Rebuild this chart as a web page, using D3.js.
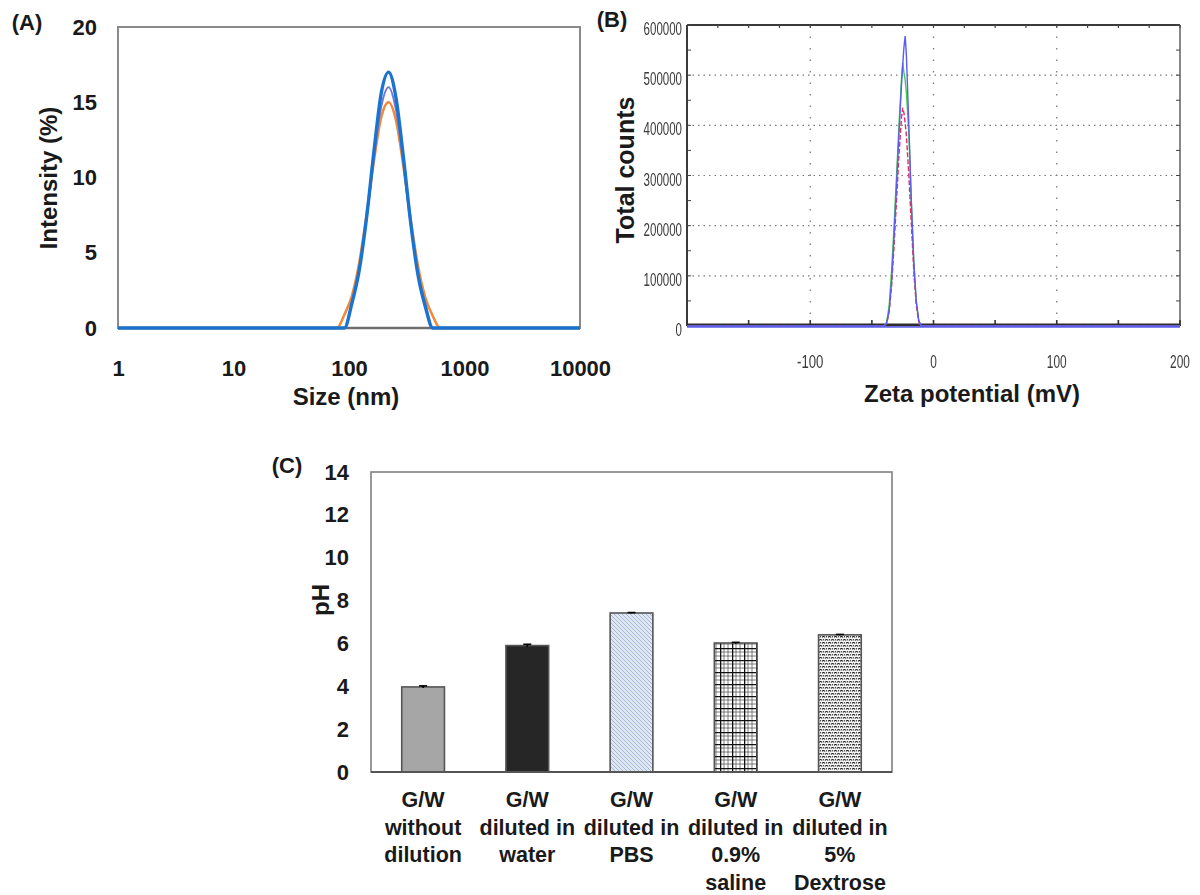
<!DOCTYPE html>
<html>
<head>
<meta charset="utf-8">
<script src="https://cdn.jsdelivr.net/npm/d3@7"></script>
<style>
  html, body { margin: 0; padding: 0; background: #fff; }
  svg { display: block; }
  text { font-family: Arial, "Liberation Sans", Helvetica, sans-serif; }
</style>
</head>
<body>
<svg id="fig" width="1200" height="895"></svg>
<script>
// ---------- (A) size distribution by intensity ----------
const sizeNm = [1, 78.8, 91.3, 105.7, 122.4, 141.8, 164.2, 190.1, 220.2, 255.0, 295.3, 342.0, 396.1, 458.7, 531.2, 615.1, 712.4, 10000];
const intensityOrange = [0, 0, 0.9, 2.1, 4.3, 7.5, 11.1, 14.0, 15.0, 13.8, 10.8, 7.2, 4.1, 2.0, 0.8, 0, 0, 0];
const intensityPurple = [0, 0, 0, 1.7, 3.9, 7.3, 11.3, 14.7, 16.0, 14.5, 11.0, 6.9, 3.6, 1.6, 0, 0, 0, 0];
const intensityBlue   = [0, 0, 0, 1.6, 3.8, 7.3, 11.7, 15.6, 17.0, 15.3, 11.4, 7.0, 3.5, 1.4, 0, 0, 0, 0];
const sizeTicks = [1, 10, 100, 1000, 10000];
const intensityTicks = [0, 5, 10, 15, 20];

// ---------- (B) zeta potential distribution ----------
const zetaMv = [-200, -40, -38, -36, -34, -32, -30, -28, -26, -25, -24, -23, -22, -20, -18, -16, -14, -12, -10, 200];
const countsRed   = [0, 0, 5000, 28000, 80000, 160000, 250000, 340000, 415000, 435000, 425000, 405000, 380000, 300000, 205000, 110000, 42000, 9000, 0, 0];
const countsGreen = [0, 0, 8000, 40000, 110000, 200000, 300000, 400000, 490000, 525000, 505000, 490000, 465000, 385000, 245000, 125000, 48000, 10000, 0, 0];
const countsBlue  = [0, 0, 5000, 30000, 90000, 180000, 280000, 385000, 480000, 520000, 555000, 578000, 540000, 400000, 250000, 130000, 50000, 12000, 0, 0];
const countTicks = [0, 100000, 200000, 300000, 400000, 500000, 600000];
const zetaTickLabels = [-100, 0, 100, 200];

// ---------- (C) pH ----------
const phCategories = [
  ["G/W", "without", "dilution"],
  ["G/W", "diluted in", "water"],
  ["G/W", "diluted in", "PBS"],
  ["G/W", "diluted in", "0.9%", "saline"],
  ["G/W", "diluted in", "5%", "Dextrose"]
];
const phValues = [3.97, 5.90, 7.42, 6.02, 6.40];
const phErrors = [0.05, 0.06, 0.02, 0.03, 0.02];
const phTicks = [0, 2, 4, 6, 8, 10, 12, 14];

const svg = d3.select("#fig");
const defs = svg.append("defs");

defs.append("filter").attr("id", "soft")
  .append("feGaussianBlur").attr("stdDeviation", 0.45);

// fill patterns for the pH bars
const hatch = defs.append("pattern").attr("id", "pat-hatch")
  .attr("patternUnits", "userSpaceOnUse").attr("width", 4).attr("height", 4);
hatch.append("rect").attr("width", 4).attr("height", 4).attr("fill", "#dfe7f2");
hatch.append("path").attr("d", "M-1,-1 L5,5 M-1,3 L1,5 M3,-1 L5,1")
  .attr("stroke", "#9db2cf").attr("stroke-width", 0.9);

const grid = defs.append("pattern").attr("id", "pat-grid")
  .attr("patternUnits", "userSpaceOnUse").attr("width", 12).attr("height", 12);
grid.append("rect").attr("width", 12).attr("height", 12).attr("fill", "#fff");
grid.append("path").attr("d", "M0,4 H12 M0,8 H12 M4,0 V12 M8,0 V12")
  .attr("stroke", "#6a6a6a").attr("stroke-width", 0.9);
grid.append("path").attr("d", "M0,0.6 H12 M0.6,0 V12")
  .attr("stroke", "#111").attr("stroke-width", 1.4);

const weave = defs.append("pattern").attr("id", "pat-weave")
  .attr("patternUnits", "userSpaceOnUse").attr("width", 6).attr("height", 6);
weave.append("rect").attr("width", 6).attr("height", 6).attr("fill", "#f6f6f6");
weave.append("path").attr("d", "M0,1.5 Q1.5,-0.5 3,1.5 M3,4.5 Q4.5,2.5 6,4.5 M-3,4.5 Q-1.5,2.5 0,4.5")
  .attr("stroke", "#222").attr("stroke-width", 1.2).attr("fill", "none");
weave.append("circle").attr("cx", 4.5).attr("cy", 0.8).attr("r", 0.7).attr("fill", "#333");
weave.append("circle").attr("cx", 1.5).attr("cy", 3.8).attr("r", 0.7).attr("fill", "#333");

function boldText(g, x, y, str, size, anchor) {
  return g.append("text").attr("x", x).attr("y", y)
    .attr("text-anchor", anchor || "middle")
    .attr("font-size", size).attr("font-weight", "bold").attr("fill", "#1a1a1a")
    .text(str);
}

// ================= Panel A =================
const gA = svg.append("g");
const xA = d3.scaleLog().domain([1, 10000]).range([118, 580]);
const yA = d3.scaleLinear().domain([0, 20]).range([328, 27]);

gA.append("rect").attr("x", 118).attr("y", 27).attr("width", 462).attr("height", 301)
  .attr("fill", "none").attr("stroke", "#8a8a8a").attr("stroke-width", 2);
gA.append("line").attr("x1", 118).attr("x2", 580).attr("y1", 328).attr("y2", 328)
  .attr("stroke", "#6e6e6e").attr("stroke-width", 2.5);

const axA_y = gA.append("g").attr("transform", "translate(118,0)")
  .call(d3.axisLeft(yA).tickValues(intensityTicks).tickSize(0).tickPadding(21));
const axA_x = gA.append("g").attr("transform", "translate(0,328)")
  .call(d3.axisBottom(xA).tickValues(sizeTicks).tickFormat(d3.format("d")).tickSize(0).tickPadding(32));
[axA_y, axA_x].forEach(ax => {
  ax.select(".domain").remove();
  ax.selectAll("text").attr("font-size", 22).attr("font-weight", "bold").attr("fill", "#1a1a1a")
    .attr("font-family", "Arial, 'Liberation Sans', sans-serif");
});

const lineA = vals => d3.line()
  .x((d, i) => xA(sizeNm[i])).y(d => yA(d)).curve(d3.curveMonotoneX)(vals);
gA.append("path").attr("d", lineA(intensityOrange)).attr("fill", "none")
  .attr("stroke", "#f08a3c").attr("stroke-width", 2.6);
gA.append("path").attr("d", lineA(intensityPurple)).attr("fill", "none")
  .attr("stroke", "#7378d2").attr("stroke-width", 2);
gA.append("path").attr("d", lineA(intensityBlue)).attr("fill", "none")
  .attr("stroke", "#1a74cf").attr("stroke-width", 3.4);

boldText(gA, 27, 30, "(A)", 22);
boldText(gA, 346, 405, "Size (nm)", 24);
boldText(gA, 0, 0, "Intensity (%)", 24).attr("transform", "translate(57,178) rotate(-90)");

// ================= Panel B =================
const gB = svg.append("g");
const xB = d3.scaleLinear().domain([-200, 200]).range([687, 1180]);
const yB = d3.scaleLinear().domain([0, 600000]).range([326, 25]);

// dotted grid
gB.selectAll("line.hg").data(countTicks.filter(v => v > 0 && v < 600000)).enter().append("line")
  .attr("x1", 687).attr("x2", 1180).attr("y1", d => yB(d)).attr("y2", d => yB(d))
  .attr("stroke", "#7a7a7a").attr("stroke-width", 1.2).attr("stroke-dasharray", "1.5,4");
gB.selectAll("line.vg").data([-100, 0, 100]).enter().append("line")
  .attr("y1", 25).attr("y2", 326).attr("x1", d => xB(d)).attr("x2", d => xB(d))
  .attr("stroke", "#7a7a7a").attr("stroke-width", 1.3).attr("stroke-dasharray", "1.5,10");

// frame
gB.append("line").attr("x1", 687).attr("x2", 1180).attr("y1", 25).attr("y2", 25)
  .attr("stroke", "#3a3a3a").attr("stroke-width", 2);
gB.append("line").attr("x1", 687).attr("x2", 687).attr("y1", 25).attr("y2", 326)
  .attr("stroke", "#3a3a3a").attr("stroke-width", 2);
gB.append("line").attr("x1", 1180).attr("x2", 1180).attr("y1", 25).attr("y2", 326)
  .attr("stroke", "#6a6a6a").attr("stroke-width", 1.6);

// minor ticks on the frame
const minorCounts = d3.range(0, 600001, 50000);
gB.selectAll("line.lt").data(minorCounts).enter().append("line")
  .attr("x1", 687).attr("x2", 691).attr("y1", d => yB(d)).attr("y2", d => yB(d))
  .attr("stroke", "#444").attr("stroke-width", 1);
gB.selectAll("line.rt").data(minorCounts).enter().append("line")
  .attr("x1", 1176).attr("x2", 1180).attr("y1", d => yB(d)).attr("y2", d => yB(d))
  .attr("stroke", "#444").attr("stroke-width", 1);
const minorZeta = d3.range(-200, 201, 50);
gB.selectAll("line.bt").data(minorZeta).enter().append("line")
  .attr("x1", d => xB(d)).attr("x2", d => xB(d)).attr("y1", 326).attr("y2", 320)
  .attr("stroke", "#333").attr("stroke-width", 1.6);
gB.selectAll("line.tt").data(d3.range(-200, 201, 25)).enter().append("line")
  .attr("x1", d => xB(d)).attr("x2", d => xB(d)).attr("y1", 25).attr("y2", 28)
  .attr("stroke", "#444").attr("stroke-width", 1.2);

gB.append("line").attr("x1", 687).attr("x2", 1180).attr("y1", 325).attr("y2", 325)
  .attr("stroke", "#2e2e2e").attr("stroke-width", 3);

// distribution curves
const lineB = vals => d3.line().x((d, i) => xB(zetaMv[i])).y(d => yB(d))(vals);
gB.append("path").attr("d", lineB(countsGreen)).attr("fill", "none")
  .attr("stroke", "#3fd04a").attr("stroke-width", 1.4).attr("filter", "url(#soft)");
gB.append("path").attr("d", lineB(countsRed)).attr("fill", "none")
  .attr("stroke", "#e0305e").attr("stroke-width", 1.4).attr("stroke-dasharray", "5,2")
  .attr("filter", "url(#soft)");
gB.append("path").attr("d", lineB(countsBlue)).attr("fill", "none")
  .attr("stroke", "#5a5cf2").attr("stroke-width", 1.4).attr("filter", "url(#soft)");
gB.append("line").attr("x1", 687).attr("x2", 1180).attr("y1", 327).attr("y2", 327)
  .attr("stroke", "#5a5cf2").attr("stroke-width", 1.3);

// tick labels, compressed like the instrument's export
const tickLblB = gB.append("g").attr("filter", "url(#soft)");
tickLblB.selectAll("text.yl").data(countTicks).enter().append("text")
  .attr("x", 682).attr("y", d => yB(d) + 10)
  .attr("text-anchor", "end").attr("font-size", 18).attr("fill", "#3a3a3a")
  .attr("font-family", "'Liberation Sans Narrow', 'Arial Narrow', Arial, sans-serif")
  .attr("textLength", d => String(d).length * 6.4).attr("lengthAdjust", "spacingAndGlyphs")
  .text(d => String(d));
tickLblB.selectAll("text.xl").data(zetaTickLabels).enter().append("text")
  .attr("x", d => xB(d)).attr("y", 368)
  .attr("text-anchor", "middle").attr("font-size", 18).attr("fill", "#3a3a3a")
  .attr("font-family", "'Liberation Sans Narrow', 'Arial Narrow', Arial, sans-serif")
  .attr("textLength", d => String(d).length * 6.6).attr("lengthAdjust", "spacingAndGlyphs")
  .text(d => String(d));

boldText(gB, 612, 27, "(B)", 22);
boldText(gB, 972, 402, "Zeta potential (mV)", 24);
boldText(gB, 0, 0, "Total counts", 25).attr("transform", "translate(634,170) rotate(-90)");

// ================= Panel C =================
const gC = svg.append("g");
const xC = d3.scaleBand().domain(d3.range(phCategories.length)).range([371, 892])
  .paddingInner(0.59).paddingOuter(0.295);
const yC = d3.scaleLinear().domain([0, 14]).range([772, 472]);
const fills = ["#a6a6a6", "#262626", "url(#pat-hatch)", "url(#pat-grid)", "url(#pat-weave)"];

gC.append("rect").attr("x", 371).attr("y", 472).attr("width", 521).attr("height", 300)
  .attr("fill", "none").attr("stroke", "#808080").attr("stroke-width", 1.6);

gC.selectAll("rect.bar").data(phValues).enter().append("rect")
  .attr("x", (d, i) => xC(i)).attr("width", xC.bandwidth())
  .attr("y", d => yC(d)).attr("height", d => yC(0) - yC(d))
  .attr("fill", (d, i) => fills[i]).attr("stroke", "#555").attr("stroke-width", 1.6);

gC.append("line").attr("x1", 371).attr("x2", 892).attr("y1", 772).attr("y2", 772)
  .attr("stroke", "#555").attr("stroke-width", 2);

// error bars
const eb = gC.selectAll("g.eb").data(phValues).enter().append("g")
  .attr("stroke", "#000").attr("stroke-width", 1.6);
eb.append("line").attr("x1", (d, i) => xC(i) + xC.bandwidth() / 2).attr("x2", (d, i) => xC(i) + xC.bandwidth() / 2)
  .attr("y1", (d, i) => yC(d + phErrors[i])).attr("y2", (d, i) => yC(d - phErrors[i]));
eb.append("line").attr("x1", (d, i) => xC(i) + xC.bandwidth() / 2 - 4).attr("x2", (d, i) => xC(i) + xC.bandwidth() / 2 + 4)
  .attr("y1", (d, i) => yC(d + phErrors[i])).attr("y2", (d, i) => yC(d + phErrors[i]));

const axC_y = gC.append("g").attr("transform", "translate(371,0)")
  .call(d3.axisLeft(yC).tickValues(phTicks).tickSize(0).tickPadding(22));
axC_y.select(".domain").remove();
axC_y.selectAll("text").attr("font-size", 22).attr("font-weight", "bold").attr("fill", "#1a1a1a")
  .attr("font-family", "Arial, 'Liberation Sans', sans-serif");

phCategories.forEach((lines, i) => {
  const cx = xC(i) + xC.bandwidth() / 2;
  lines.forEach((ln, j) => boldText(gC, cx, 807 + j * 27.5, ln, 21.5));
});

boldText(gC, 287, 473, "(C)", 22);
boldText(gC, 0, 0, "pH", 24).attr("transform", "translate(329,600) rotate(-90)");
</script>
</body>
</html>
